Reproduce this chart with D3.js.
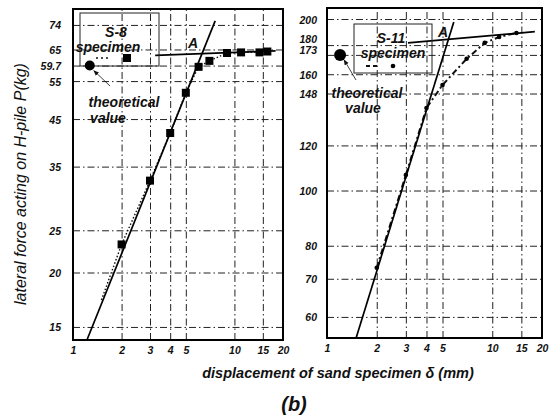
<!DOCTYPE html>
<html>
<head>
<meta charset="utf-8">
<script src="https://cdn.jsdelivr.net/npm/d3@7"></script>
<style>
  body { margin: 0; background: #fff; }
  svg { font-family: "Liberation Sans", Arial, sans-serif; }
  .tick text { font-style: italic; font-weight: bold; font-size: 10.5px; fill: #111; }
  .grid line { stroke: #222; stroke-width: 1; stroke-dasharray: 7,3,1.5,3; }
  .grid path, .lab path { display: none; }
  .note { font-style: italic; font-weight: bold; fill: #111; }
</style>
</head>
<body>
<div id="chart"></div>
<script>
// ---- data ----
const xTicks = [1, 2, 3, 4, 5, 10, 15, 20];
const xGrid = [2, 3, 4, 5, 10, 15];

const leftYTicks = [15, 20, 25, 35, 45, 55, 59.7, 65, 74];
const rightYTicks = [60, 70, 80, 100, 120, 148, 160, 173, 180, 200];

// S-8 specimen (squares)
const s8Disp = [2, 3, 4, 5, 6, 7, 9, 11, 14.3, 16];
const s8Load = [23.2, 32.5, 41.8, 51.7, 59.3, 61.2, 63.8, 64, 64, 64.3];
const s8Tail = [1.5, 17.3];           // start of dotted curve below first point
const s8LineA = [[1.22, 14], [7.6, 75.6]];
const s8Yield = [[3.23, 63], [18, 64.5]];
const s8Theory = [1.27, 59.7];

// S-11 specimen (dots)
const s11Disp = [2, 3, 4, 5, 7, 9, 11, 14];
const s11Load = [73.2, 106.5, 139.6, 153.2, 170.3, 181.6, 186, 189];
const s11LineA = [[1.5, 55.1], [5.85, 197.6]];
const s11Yield = [[3.09, 181.6], [18.1, 190]];
const s11Theory = [1.2, 173];

const W = 552, H = 418;
const svg = d3.select("#chart").append("svg")
    .attr("width", W).attr("height", H);

svg.append("defs").append("marker")
    .attr("id", "arr").attr("viewBox", "0 0 10 10")
    .attr("refX", 9).attr("refY", 5)
    .attr("markerWidth", 7).attr("markerHeight", 7)
    .attr("orient", "auto")
    .append("path").attr("d", "M0,1 L10,5 L0,9 Z").attr("fill", "#111");

function note(g, x, y, size, txt, anchor) {
    return g.append("text").attr("class", "note").attr("font-size", size)
        .attr("x", x).attr("y", y).attr("text-anchor", anchor || "middle").text(txt);
}

function drawPanel(p) {
    const x = d3.scaleLog().domain([1, 20]).range([p.left, p.right]);
    const y = d3.scaleLog().domain(p.yDomain).range([p.bottom, p.top]);
    const g = svg.append("g");
    const w = p.right - p.left, h = p.bottom - p.top;

    // horizontal grid + y labels
    g.append("g").attr("class", "grid")
        .attr("transform", "translate(" + p.left + ",0)")
        .call(d3.axisLeft(y).tickValues(p.yTicks).tickSize(-w).tickFormat(""));
    const yl = g.append("g").attr("class", "lab")
        .attr("transform", "translate(" + p.left + ",0)")
        .call(d3.axisLeft(y).tickValues(p.yTicks).tickSize(0).tickPadding(p.pad)
            .tickFormat(d => d));
    yl.selectAll(".tick text").attr("dy", d => (p.nudge[d] || 0) + 4);

    // vertical grid + x labels
    g.append("g").attr("class", "grid")
        .attr("transform", "translate(0," + p.bottom + ")")
        .call(d3.axisBottom(x).tickValues(xGrid).tickSize(-h).tickFormat(""));
    g.append("g").attr("class", "lab")
        .attr("transform", "translate(0," + p.bottom + ")")
        .call(d3.axisBottom(x).tickValues(xTicks).tickSize(0).tickPadding(7)
            .tickFormat(d => d));

    const line = d3.line().x(d => x(d[0])).y(d => y(d[1]));
    const pts = p.disp.map((d, i) => [d, p.load[i]]);

    // test curve
    const curve = p.tail ? [p.tail].concat(pts) : pts;
    g.append("path").datum(curve)
        .attr("fill", "none").attr("stroke", "#111")
        .attr("stroke-width", p.curveW).attr("stroke-dasharray", p.curveDash)
        .attr("d", line);

    // straight lines through A
    [p.lineA, p.yieldLine].forEach(l => {
        g.append("path").datum(l)
            .attr("fill", "none").attr("stroke", "#000").attr("stroke-width", 1.7)
            .attr("d", line);
    });

    // markers
    if (p.square) {
        g.selectAll(".pt").data(pts).join("rect")
            .attr("x", d => x(d[0]) - 4).attr("y", d => y(d[1]) - 4)
            .attr("width", 8).attr("height", 8).attr("fill", "#000");
    } else {
        g.selectAll(".pt").data(pts).join("circle")
            .attr("cx", d => x(d[0])).attr("cy", d => y(d[1]))
            .attr("r", 2.3).attr("fill", "#000");
    }

    // frame
    g.append("rect").attr("x", p.left).attr("y", p.top)
        .attr("width", w).attr("height", h)
        .attr("fill", "none").attr("stroke", "#000").attr("stroke-width", 2);

    // legend box
    const lb = p.legend;
    g.append("rect").attr("x", lb.x).attr("y", lb.y).attr("width", lb.w).attr("height", lb.h)
        .attr("fill", "none").attr("stroke", "#222").attr("stroke-width", 1);
    note(g, lb.name[0], lb.name[1], 14, p.name);
    note(g, lb.spec[0], lb.spec[1], 14, "specimen");
    const my = lb.row[1];
    g.append("line").attr("x1", lb.row[0]).attr("x2", lb.row[0] + 14)
        .attr("y1", my).attr("y2", my)
        .attr("stroke", "#111").attr("stroke-width", p.curveW)
        .attr("stroke-dasharray", p.square ? "2,3" : "4,3");
    const mx = lb.row[2];
    if (p.square) {
        g.append("rect").attr("x", mx - 4).attr("y", my - 4).attr("width", 8).attr("height", 8).attr("fill", "#000");
    } else {
        g.append("circle").attr("cx", mx).attr("cy", my).attr("r", 2.3).attr("fill", "#000");
    }

    // label A
    note(g, p.aPos[0], p.aPos[1], 14, "A");

    // theoretical value
    const tx = x(p.theory[0]), ty = y(p.theory[1]);
    g.append("circle").attr("cx", tx).attr("cy", ty).attr("r", p.theoryR).attr("fill", "#000");
    g.append("line")
        .attr("x1", p.arrowFrom[0]).attr("y1", p.arrowFrom[1])
        .attr("x2", tx + 4).attr("y2", ty + 5)
        .attr("stroke", "#111").attr("stroke-width", 0.8)
        .attr("marker-end", "url(#arr)");
    note(g, p.theo[0], p.theo[1], 14, "theoretical");
    note(g, p.val[0], p.val[1], 14, "value");
}

drawPanel({
    left: 73, right: 283, top: 9, bottom: 340,
    yDomain: [14, 80.5], yTicks: leftYTicks, pad: 12, nudge: {},
    disp: s8Disp, load: s8Load, tail: s8Tail, square: true,
    curveW: 1.4, curveDash: "1.5,2",
    lineA: s8LineA, yieldLine: s8Yield, theory: s8Theory, theoryR: 5,
    name: "S-8",
    legend: {x: 80, y: 13, w: 79, h: 53, name: [116, 37], spec: [108, 52], row: [96, 58, 127]},
    aPos: [193, 48],
    arrowFrom: [110, 86], theo: [124, 107], val: [108, 123]
});

drawPanel({
    left: 327, right: 542, top: 8, bottom: 338,
    yDomain: [55.1, 209.1], yTicks: rightYTicks, pad: 10, nudge: {180: -7, 173: -5},
    disp: s11Disp, load: s11Load, tail: null, square: false,
    curveW: 2, curveDash: "6,3,2,3",
    lineA: s11LineA, yieldLine: s11Yield, theory: s11Theory, theoryR: 6,
    name: "S-11",
    legend: {x: 354, y: 24, w: 78, h: 49, name: [391, 43], spec: [393, 58], row: [366, 66, 393]},
    aPos: [443, 37],
    arrowFrom: [356, 80], theo: [367, 98], val: [363, 113]
});

// axis titles
note(svg, 338, 378, 14.5, "displacement of sand specimen  \u03b4 (mm)");
svg.append("text").attr("font-size", 20).attr("font-weight", "bold").attr("font-style", "italic")
    .attr("x", 294).attr("y", 411).attr("text-anchor", "middle").attr("fill", "#111")
    .text("(b)");
svg.append("text").attr("font-size", 16).attr("font-style", "italic").attr("fill", "#111")
    .attr("transform", "translate(26,184) rotate(-90)").attr("text-anchor", "middle")
    .text("lateral force acting on H-pile  P(kg)");
</script>
</body>
</html>
